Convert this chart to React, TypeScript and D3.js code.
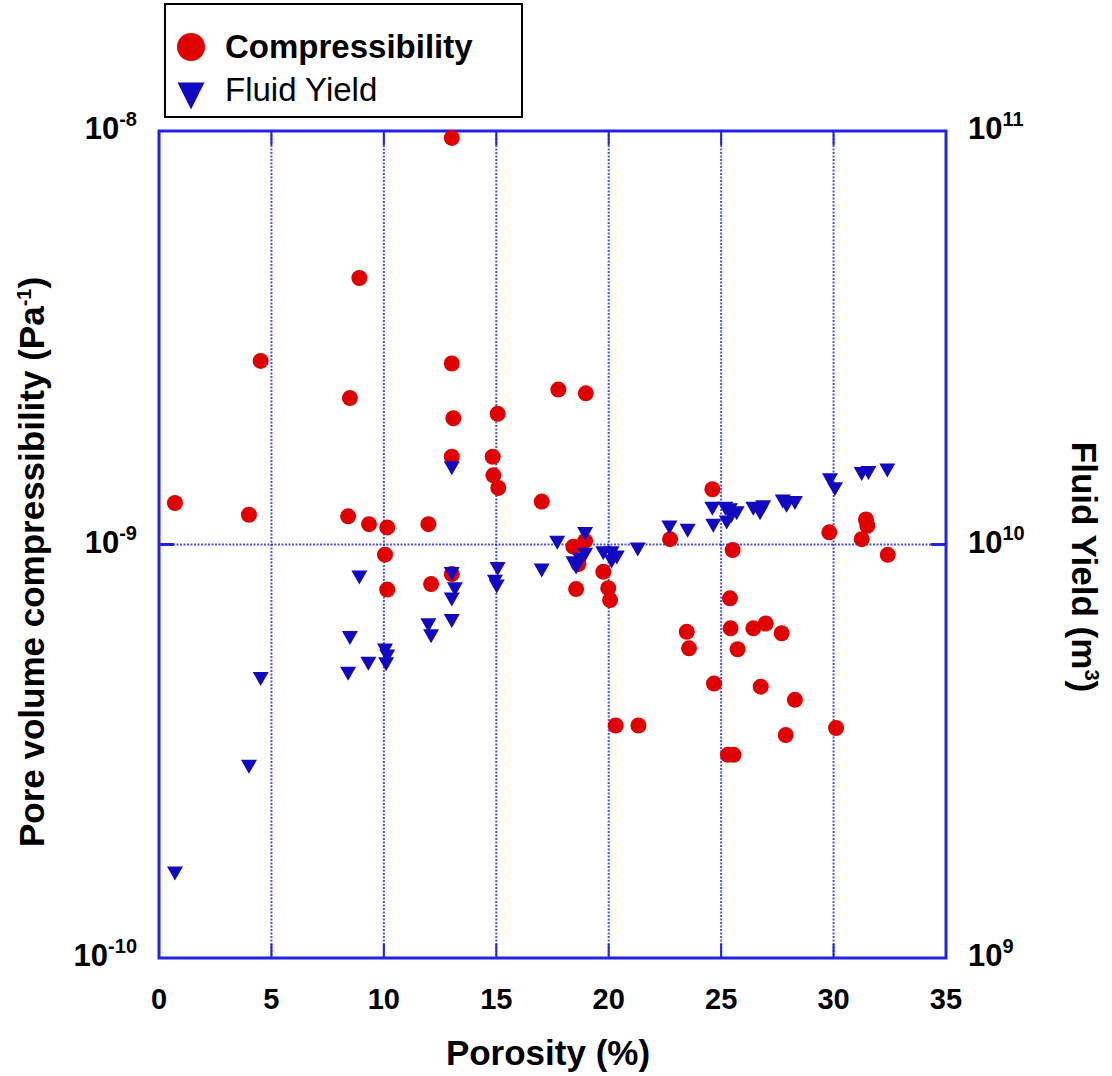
import React from "react";
import * as d3 from "d3";

const compX = [0.71, 4.0, 4.52, 8.41, 8.49, 8.91, 9.34, 10.05, 10.15, 10.15, 11.98, 12.1, 13.02, 13.02, 13.09, 13.02, 13.02, 14.84, 14.87, 15.09, 15.06, 17.02, 17.76, 18.98, 18.43, 18.65, 18.55, 18.95, 19.76, 19.98, 20.06, 20.31, 21.32, 22.73, 23.47, 23.57, 24.61, 24.68, 25.3, 25.55, 25.39, 25.42, 25.51, 25.73, 26.43, 26.98, 26.76, 27.69, 27.87, 28.28, 29.81, 30.11, 31.25, 31.44, 31.5, 32.41];
const compY = [1.26e-9, 1.18e-9, 2.78e-9, 1.17e-9, 2.26e-9, 4.41e-9, 1.12e-9, 9.45e-10, 1.1e-9, 7.78e-10, 1.12e-9, 8.02e-10, 9.62e-9, 2.74e-9, 2.02e-9, 1.63e-9, 8.48e-10, 1.63e-9, 1.47e-9, 1.37e-9, 2.07e-9, 1.27e-9, 2.37e-9, 2.32e-9, 9.88e-10, 8.97e-10, 7.8e-10, 1.02e-9, 8.59e-10, 7.84e-10, 7.34e-10, 3.65e-10, 3.65e-10, 1.03e-9, 6.15e-10, 5.61e-10, 1.36e-9, 4.61e-10, 3.1e-10, 3.1e-10, 7.41e-10, 6.27e-10, 9.7e-10, 5.58e-10, 6.27e-10, 6.44e-10, 4.53e-10, 6.1e-10, 3.46e-10, 4.21e-10, 1.07e-9, 3.6e-10, 1.03e-9, 1.15e-9, 1.11e-9, 9.44e-10];

const yieldX = [0.71, 4.0, 4.52, 8.41, 8.49, 8.91, 9.31, 10.05, 10.15, 10.1, 11.98, 12.1, 13.02, 13.02, 13.16, 13.02, 13.02, 15.06, 14.94, 15.02, 17.02, 17.71, 18.43, 18.55, 18.72, 18.95, 18.95, 19.76, 20.13, 20.36, 20.13, 21.29, 22.7, 23.51, 24.61, 24.65, 25.19, 25.25, 25.39, 25.45, 25.69, 26.43, 26.73, 26.87, 27.74, 27.91, 28.28, 29.84, 30.06, 31.25, 31.55, 32.39];
const yieldY = [1.6e9, 2.9e9, 4.73e9, 4.87e9, 5.94e9, 8.32e9, 5.15e9, 5.54e9, 5.36e9, 5.13e9, 6.38e9, 6.0e9, 1.53e10, 8.49e9, 7.79e9, 7.36e9, 6.53e9, 8.73e9, 8.13e9, 7.92e9, 8.65e9, 1.01e10, 9.01e9, 8.8e9, 9.2e9, 9.44e9, 1.06e10, 9.53e9, 9.53e9, 9.3e9, 9.1e9, 9.73e9, 1.1e10, 1.08e10, 1.22e10, 1.11e10, 1.22e10, 1.13e10, 1.21e10, 1.17e10, 1.19e10, 1.22e10, 1.19e10, 1.23e10, 1.27e10, 1.24e10, 1.26e10, 1.43e10, 1.36e10, 1.48e10, 1.49e10, 1.51e10];

const xTicks = [0, 5, 10, 15, 20, 25, 30, 35];
const leftTicks = [1e-8, 1e-9, 1e-10];
const leftExps = ["-8", "-9", "-10"];
const rightTicks = [1e11, 1e10, 1e9];
const rightExps = ["11", "10", "9"];

const seriesNames = ["Compressibility", "Fluid Yield"];

const L = 159, R = 946, T = 131, B = 958;
const FRAME = "#2222e6";
const RED = "#e00000";
const BLUE = "#1208c0";
const FONT = "'Liberation Sans', Arial, sans-serif";

export default function App() {
  const x = d3.scaleLinear().domain([0, 35]).range([L, R]);
  const yL = d3.scaleLog().domain([1e-10, 1e-8]).range([B, T]);
  const yR = d3.scaleLog().domain([1e9, 1e11]).range([B, T]);
  const tri = (cx: number, cy: number, w: number, h: number) =>
    `M${cx - w / 2},${cy - h / 2}L${cx + w / 2},${cy - h / 2}L${cx},${cy + h / 2}Z`;

  return (
    <svg width={1112} height={1076} style={{ position: "absolute", left: 0, top: 0, background: "#fff" }} fontFamily={FONT}>
      {/* vertical grid */}
      {xTicks.slice(1, -1).map((t) => (
        <g key={"g" + t}>
          <line x1={x(t)} x2={x(t)} y1={T} y2={B} stroke={FRAME} strokeWidth={2} strokeDasharray="2,1.5" opacity={0.8} />
          <line x1={x(t)} x2={x(t)} y1={B} y2={B - 14} stroke={FRAME} strokeWidth={2} />
          <line x1={x(t)} x2={x(t)} y1={T} y2={T + 14} stroke={FRAME} strokeWidth={2} />
        </g>
      ))}
      {/* horizontal grid at 1e-9 */}
      <line x1={L} x2={R} y1={yL(1e-9)} y2={yL(1e-9)} stroke={FRAME} strokeWidth={2} strokeDasharray="2,1.5" opacity={0.8} />
      <line x1={L} x2={L + 15} y1={yL(1e-9)} y2={yL(1e-9)} stroke={FRAME} strokeWidth={3} />
      <line x1={R - 15} x2={R} y1={yL(1e-9)} y2={yL(1e-9)} stroke={FRAME} strokeWidth={3} />
      {/* frame */}
      <rect x={L} y={T} width={R - L} height={B - T} fill="none" stroke={FRAME} strokeWidth={3} />

      {/* compressibility */}
      {compX.map((v, i) => (
        <circle key={"c" + i} cx={x(v)} cy={yL(compY[i])} r={8} fill={RED} />
      ))}
      {/* fluid yield */}
      {yieldX.map((v, i) => (
        <path key={"t" + i} d={tri(x(v), yR(yieldY[i]), 16, 14)} fill={BLUE} />
      ))}

      {/* left tick labels */}
      {leftTicks.map((t, i) => (
        <text key={"l" + t} x={137} y={yL(t) + 8} textAnchor="end" fontSize={31} fontWeight="bold" fill="#000">
          10<tspan dy={-13} fontSize={20}>{leftExps[i]}</tspan>
        </text>
      ))}
      {/* right tick labels */}
      {rightTicks.map((t, i) => (
        <text key={"r" + t} x={968} y={yR(t) + 8} textAnchor="start" fontSize={31} fontWeight="bold" fill="#000">
          10<tspan dy={-13} fontSize={20}>{rightExps[i]}</tspan>
        </text>
      ))}
      {/* x tick labels */}
      {xTicks.map((t) => (
        <text key={"x" + t} x={x(t)} y={1009} textAnchor="middle" fontSize={29} fontWeight="bold" fill="#000">
          {t}
        </text>
      ))}

      {/* axis titles */}
      <text x={548} y={1065} textAnchor="middle" fontSize={35} fontWeight="bold" fill="#000">Porosity (%)</text>
      <text transform="translate(44,562) rotate(-90)" textAnchor="middle" fontSize={35} fontWeight="bold" fill="#000">
        Pore volume compressibility (Pa<tspan dy={-13} fontSize={20}>-1</tspan><tspan dy={13}>)</tspan>
      </text>
      <text transform="translate(1072,567) rotate(90)" textAnchor="middle" fontSize={35} fontWeight="bold" fill="#000">
        Fluid Yield (m<tspan dy={-13} fontSize={20}>3</tspan><tspan dy={13}>)</tspan>
      </text>

      {/* legend */}
      <rect x={165} y={4} width={357} height={113} fill="#fff" stroke="#000" strokeWidth={2} />
      <circle cx={191} cy={47} r={14} fill={RED} />
      <path d={tri(191, 96, 27, 27)} fill={BLUE} />
      <text x={225} y={58} fontSize={33} fontWeight="bold" fill="#000">{seriesNames[0]}</text>
      <text x={225} y={101} fontSize={33} fill="#000">{seriesNames[1]}</text>
    </svg>
  );
}
